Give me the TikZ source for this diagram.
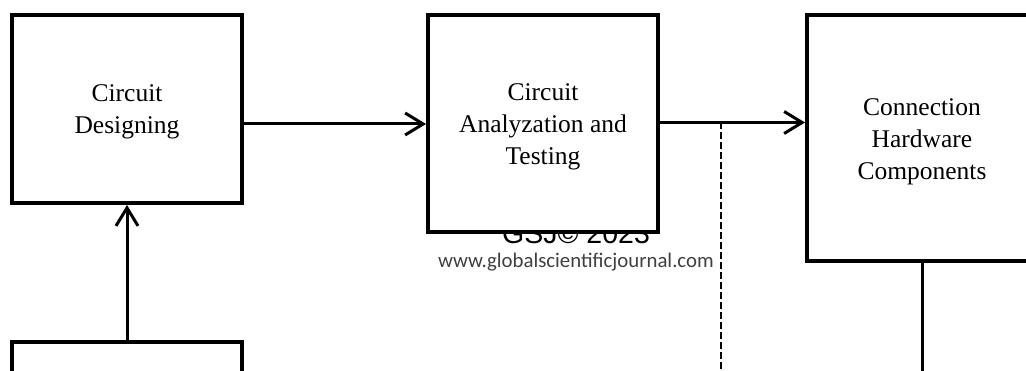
\documentclass[tikz,border=0pt]{standalone}
\usepackage{fontspec}
\setmainfont{Liberation Serif}
\newfontfamily\wmsans{Liberation Sans}
\newfontfamily\wmcal{Carlito}
\usetikzlibrary{arrows.meta}
\definecolor{wmgray}{HTML}{404040}
\tikzset{
  stagebox/.style={draw=black, line width=4pt, fill=white, minimum width=230pt, inner sep=0pt},
  boxtext/.style={align=center, inner sep=0pt, yshift=-3pt, font=\fontsize{25.5pt}{32pt}\selectfont},
  flow/.style={line width=3pt, -{Straight Barb[length=18pt,width=22pt,line width=3pt]}},
  plain/.style={line width=3pt},
  dashline/.style={line width=2.2pt, dash pattern=on 7pt off 3pt}
}
\begin{document}
\begin{tikzpicture}[x=1pt,y=-1pt]
\useasboundingbox (0,0) rectangle (1026,371);
\clip (0,0) rectangle (1026,371);
\fill[white] (0,0) rectangle (1026,371);
% watermark (behind boxes)
\node[font=\wmsans\fontsize{28.5pt}{30pt}\selectfont, anchor=base] (wm1) at (576,244) {GSJ© 2023};
\node[font=\wmcal\fontsize{20.8pt}{22pt}\selectfont, text=wmgray, anchor=base] (wm2) at (576,268) {www.globalscientificjournal.com};
% boxes
\node[stagebox, minimum height=188pt] (b1) at (127,109) {};
\node[stagebox, minimum height=217pt] (b2) at (543,123.5) {};
\node[stagebox, minimum height=246pt] (b3) at (922,138) {};
\node[stagebox, minimum height=188pt] (b4) at (127,436) {};
\node[boxtext] (t1) at (b1) {Circuit\\Designing};
\node[boxtext] (t2) at (b2) {Circuit\\Analyzation and\\Testing};
\node[boxtext, yshift=-1pt] (t3) at (b3) {Connection\\Hardware\\Components};
% connectors
\coordinate (ay1) at (0,124);
\coordinate (ay2) at (0,122.5);
\coordinate (j) at (721,122.5);
\coordinate (jd) at (721,380);
\coordinate (b3d) at (922,380);
\draw[flow] (b1.east |- ay1) -- (b2.west |- ay1);
\draw[flow] (b2.east |- ay2) -- (b3.west |- ay2);
\draw[flow] (b4.north) -- (b1.south);
\draw[dashline] (j) -- (jd);
\draw[plain] (b3.south) -- (b3d);
\end{tikzpicture}
\end{document}
